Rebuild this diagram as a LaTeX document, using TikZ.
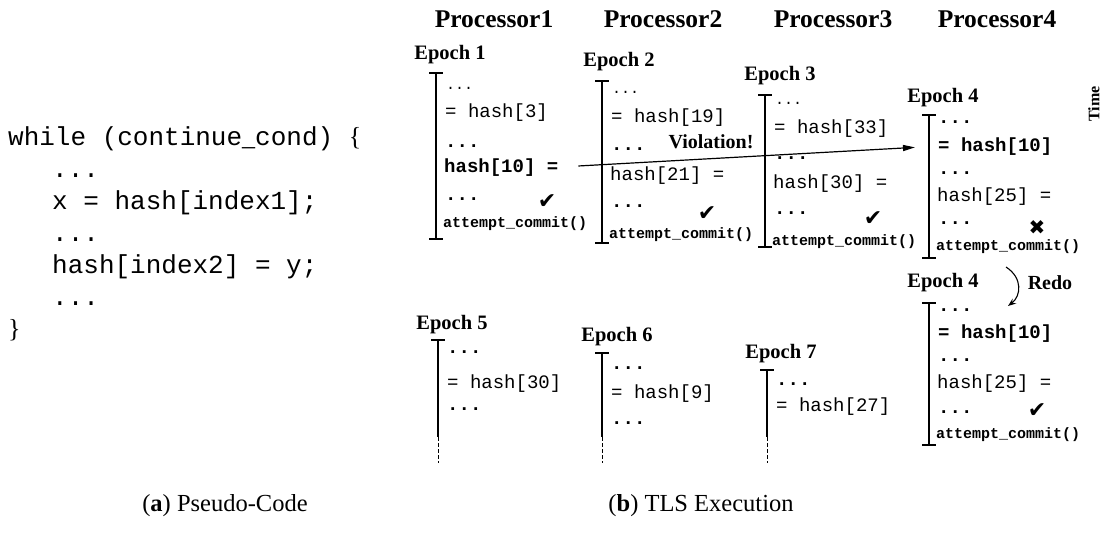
\documentclass[tikz,border=0pt]{standalone}
\usepackage{fontspec}
\setmainfont{Liberation Serif}
\setmonofont{Liberation Mono}
\newfontfamily\symfont{DejaVu Sans}
\usetikzlibrary{arrows.meta}
\tikzset{
  hdr/.style={inner sep=0pt, font=\bfseries\fontsize{25.5}{30}\selectfont},
  eplab/.style={inner sep=0pt, font=\bfseries\fontsize{20.5}{24}\selectfont},
  cd/.style={inner sep=0pt, anchor=base west, font=\ttfamily\fontsize{19}{22}\selectfont},
  bcd/.style={inner sep=0pt, anchor=base west, font=\ttfamily\bfseries\fontsize{19}{22}\selectfont},
  sdots/.style={inner sep=0pt, anchor=base west, font=\ttfamily\fontsize{15}{18}\selectfont},
  ac/.style={inner sep=0pt, anchor=base west, font=\ttfamily\bfseries\fontsize{15}{18}\selectfont},
  pc/.style={inner sep=0pt, anchor=base west, font=\ttfamily\fontsize{26}{30}\selectfont},
  bar/.style={line width=1.3pt},
  cont/.style={line width=1pt, dash pattern=on 3.5pt off 2.5pt},
  okmark/.style={inner sep=0pt, font=\symfont\fontsize{22}{24}\selectfont},
  badmark/.style={inner sep=0pt, font=\symfont\fontsize{20}{22}\selectfont},
  caplab/.style={inner sep=0pt, font=\fontsize{24.5}{28}\selectfont},
  lbl/.style={inner sep=0pt, font=\bfseries\fontsize{20}{24}\selectfont},
  varrow/.style={line width=1.2pt, -{Triangle[length=12pt,width=6pt]}},
  rarrow/.style={line width=1.1pt, -{Stealth[length=8pt,width=6pt]}},
}
\newcommand\epbar[4]{%
  \coordinate (#1t) at (#2,#3); \coordinate (#1b) at (#2,#4);
  \draw[bar] (#1t) -- (#1b);
  \draw[bar] ([xshift=-7pt]#1t) -- ([xshift=7pt]#1t);
  \draw[bar] ([xshift=-7pt]#1b) -- ([xshift=7pt]#1b);}
\newcommand\epopen[5]{%
  \coordinate (#1t) at (#2,#3); \coordinate (#1m) at (#2,#4); \coordinate (#1b) at (#2,#5);
  \draw[bar] (#1t) -- (#1m);
  \draw[bar] ([xshift=-7pt]#1t) -- ([xshift=7pt]#1t);
  \draw[cont] (#1m) -- (#1b);}
\begin{document}
\begin{tikzpicture}[x=1pt,y=-1pt]
\path[use as bounding box, fill=white] (0,0) rectangle (1101,533);

% pseudo-code
\node[pc] (p1) at (8,145) {while (continue{\rmfamily\_}cond) {\rmfamily\{}};
\node[pc] (p2) at (52,177) {...};
\node[pc] (p3) at (52,209) {x = hash[index1];};
\node[pc] (p4) at (52,241) {...};
\node[pc] (p5) at (52,273) {hash[index2] = y;};
\node[pc] (p6) at (52,305) {...};
\node[pc] (p7) at (8,337) {{\rmfamily\}}};

% headers
\node[hdr] (h1) at (494,19) {Processor1};
\node[hdr] (h2) at (663,19) {Processor2};
\node[hdr] (h3) at (833,19) {Processor3};
\node[hdr] (h4) at (997,19) {Processor4};
\node[inner sep=0pt, rotate=90, font=\bfseries\fontsize{16}{18}\selectfont] (time) at (1094,104) {Time};

% Epoch 1
\node[eplab] (e1) at (450,55) {Epoch 1};
\epbar{bA}{436}{73}{239}
\node[sdots] (a1) at (446,89) {...};
\node[cd] (a2) at (445,117) {= hash[3]};
\node[bcd] (a3) at (445,147) {...};
\node[bcd] (a4) at (444,172) {hash[10] =};
\node[bcd] (a5) at (445,200) {...};
\node[ac] (a6) at (443,227) {attempt\_commit()};
\node[okmark] (a7) at (547,202) {✔};

% Epoch 2
\node[eplab] (e2) at (619,62) {Epoch 2};
\epbar{bB}{602}{81}{243}
\node[sdots] (b1) at (612,93) {...};
\node[cd] (b2) at (611,122) {= hash[19]};
\node[bcd] (b3) at (611,150) {...};
\node[cd] (b4) at (610,180) {hash[21] =};
\node[bcd] (b5) at (611,207) {...};
\node[ac] (b6) at (609,238) {attempt\_commit()};
\node[okmark] (b7) at (707,214) {✔};

% Epoch 3
\node[eplab] (e3) at (780,76) {Epoch 3};
\epbar{bC}{765}{95}{247}
\node[sdots] (c1) at (775,104) {...};
\node[cd] (c2) at (774,133) {= hash[33]};
\node[bcd] (c3) at (774,159) {...};
\node[cd] (c4) at (773,188) {hash[30] =};
\node[bcd] (c5) at (774,214) {...};
\node[ac] (c6) at (772,245) {attempt\_commit()};
\node[okmark] (c7) at (873,219) {✔};

% Epoch 4
\node[eplab] (e4) at (943,98) {Epoch 4};
\epbar{bD}{929}{115}{258}
\node[bcd] (d1) at (938,123) {...};
\node[bcd] (d2) at (938,151) {= hash[10]};
\node[bcd] (d3) at (938,174) {...};
\node[cd] (d4) at (937,201) {hash[25] =};
\node[bcd] (d5) at (938,224) {...};
\node[ac] (d6) at (936,250) {attempt\_commit()};
\node[badmark] (d7) at (1037,228) {✖};

% Violation
\draw[varrow, shorten <=20pt, shorten >=23pt] (a4.east) -- (d2.west);
\node[lbl] (viol) at (711,142) {Violation!};

% Epoch 4 redo
\node[eplab] (f0) at (943,283) {Epoch 4};
\node[lbl] (redo) at (1050,283) {Redo};
\coordinate (r1) at (1006,267);
\coordinate (r2) at (1008,306);
\draw[rarrow] (r1) .. controls (1023,278) and (1021,296) .. (r2);
\epbar{bE}{929}{303}{445}
\node[bcd] (f1) at (938,311) {...};
\node[bcd] (f2) at (938,338) {= hash[10]};
\node[bcd] (f3) at (938,361) {...};
\node[cd] (f4) at (937,388) {hash[25] =};
\node[bcd] (f5) at (938,413) {...};
\node[ac] (f6) at (936,438) {attempt\_commit()};
\node[okmark] (f7) at (1037,411) {✔};

% Epoch 5
\node[eplab] (e5) at (452,325) {Epoch 5};
\epopen{bF}{438}{340}{437}{463}
\node[bcd] (g1) at (447,353) {...};
\node[cd] (g2) at (447,388) {= hash[30]};
\node[bcd] (g3) at (447,410) {...};

% Epoch 6
\node[eplab] (e6) at (617,337) {Epoch 6};
\epopen{bG}{602}{353}{437}{463}
\node[bcd] (k1) at (611,369) {...};
\node[cd] (k2) at (611,398) {= hash[9]};
\node[bcd] (k3) at (611,424) {...};

% Epoch 7
\node[eplab] (e7) at (781,354) {Epoch 7};
\epopen{bH}{767}{370}{437}{463}
\node[bcd] (m1) at (776,385) {...};
\node[cd] (m2) at (776,411) {= hash[27]};

% captions
\node[caplab] (capa) at (225,506) {(\textbf{a}) Pseudo-Code};
\node[caplab] (capb) at (701,506) {(\textbf{b}) TLS Execution};
\end{tikzpicture}
\end{document}
